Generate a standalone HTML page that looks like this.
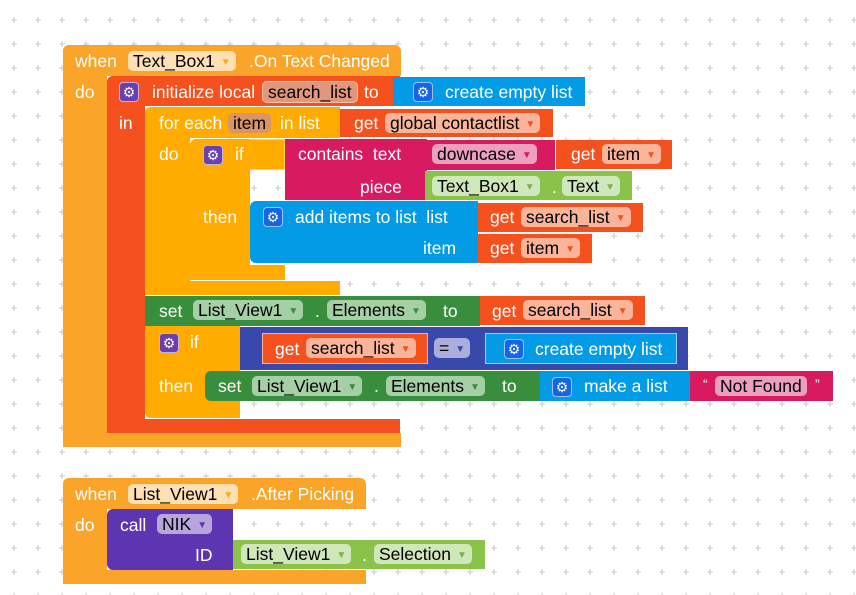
<!DOCTYPE html>
<html><head><meta charset="utf-8"><style>
body{margin:0;width:856px;height:595px;overflow:hidden;background:#fff;font-family:"Liberation Sans",Arial,sans-serif;position:relative}
.r{position:absolute}
.t{position:absolute;color:#fff;font-size:17.5px;line-height:20px;white-space:nowrap}
.p{position:absolute;height:20px;line-height:20px;border-radius:5px;padding:0 5px;color:#000;font-size:17.5px;white-space:nowrap}
.a{font-size:10px;margin-left:6px;vertical-align:2px}
.g{position:absolute;width:18px;height:18px;border-radius:4px;color:#fff;font-size:14px;line-height:18px;text-align:center;border:1px solid rgba(255,255,255,.6)}
</style></head><body>
<svg class="r" style="left:0;top:0" width="856" height="595"><defs><pattern id="pg" x="2" y="8" width="24" height="24" patternUnits="userSpaceOnUse"><path d="M12 9v6M9 12h6" stroke="#c8c8c8" stroke-width="1"/></pattern></defs><rect width="856" height="595" fill="url(#pg)"/></svg>

<!-- Event 1 -->
<div class="r" style="left:63px;top:45px;width:338px;height:31px;background:#FAA52A;border-radius:6px 6px 0 0"></div>
<div class="r" style="left:63px;top:45px;width:44px;height:402px;background:#FAA52A;border-radius:6px 0 0 6px"></div>
<div class="r" style="left:63px;top:433px;width:338px;height:14px;background:#FAA52A"></div>
<span class="t" style="left:75px;top:51px">when</span>
<span class="p" style="left:128px;top:51px;background:#FEE0B4">Text_Box1<span class="a" style="color:#f9a825">▼</span></span>
<span class="t" style="left:249px;top:51px">.On Text Changed</span>
<span class="t" style="left:75px;top:82px">do</span>

<!-- init local -->
<div class="r" style="left:107px;top:76px;width:293px;height:30px;background:#F4511E;border-radius:6px 0 0 0"></div>
<div class="r" style="left:107px;top:76px;width:38px;height:357px;background:#F4511E;border-radius:6px 0 0 6px"></div>
<div class="r" style="left:107px;top:419px;width:293px;height:14px;background:#F4511E"></div>
<div class="g" style="left:119px;top:82px;background:#6a3fb0">⚙</div>
<span class="t" style="left:152px;top:82px">initialize local</span>
<span class="p" style="left:262px;top:81px;background:#E0977C;border:1px solid #f8c0aa">search_list</span>
<span class="t" style="left:364px;top:82px">to</span>
<div class="r" style="left:393px;top:77px;width:192px;height:29px;background:#039BE5"></div>
<div class="g" style="left:413px;top:82px;background:#1565e8">⚙</div>
<span class="t" style="left:445px;top:82px">create empty list</span>
<span class="t" style="left:119px;top:113px">in</span>

<!-- for each -->
<div class="r" style="left:145px;top:107px;width:195px;height:31px;background:#FFAB00;border-radius:6px 0 0 0"></div>
<div class="r" style="left:145px;top:107px;width:45px;height:188px;background:#FFAB00;border-radius:6px 0 0 6px"></div>
<div class="r" style="left:145px;top:281px;width:195px;height:14px;background:#FFAB00"></div>
<span class="t" style="left:159px;top:113px">for each</span>
<span class="p" style="left:228px;top:113px;background:#D99566">item</span>
<span class="t" style="left:280px;top:113px">in list</span>
<div class="r" style="left:340px;top:109px;width:213px;height:28px;background:#F4511E"></div>
<span class="t" style="left:354px;top:113px">get</span>
<span class="p" style="left:385px;top:113px;background:#F9B49A">global contactlist<span class="a" style="color:#f4511e">▼</span></span>
<span class="t" style="left:159px;top:144px">do</span>

<!-- if 1 -->
<div class="r" style="left:190px;top:139px;width:95px;height:31px;background:#FFAB00;border:1px solid #ffd54f;border-radius:6px 0 0 0;box-sizing:border-box"></div>
<div class="r" style="left:190px;top:139px;width:60px;height:141px;background:#FFAB00;border-radius:6px 0 0 6px"></div>
<div class="r" style="left:190px;top:265px;width:95px;height:15px;background:#FFAB00"></div>
<div class="g" style="left:203px;top:145px;background:#6a3fb0">⚙</div>
<span class="t" style="left:235px;top:144px">if</span>
<div class="r" style="left:285px;top:139px;width:142px;height:61px;background:#D81B60"></div>
<span class="t" style="left:298px;top:144px">contains &nbsp;text</span>
<span class="t" style="left:360px;top:177px">piece</span>
<div class="r" style="left:425px;top:140px;width:130px;height:30px;background:#D81B60"></div>
<span class="p" style="left:432px;top:144px;background:#EC9FBE">downcase<span class="a" style="color:#d81b60">▼</span></span>
<div class="r" style="left:556px;top:140px;width:116px;height:29px;background:#F4511E"></div>
<span class="t" style="left:571px;top:144px">get</span>
<span class="p" style="left:602px;top:144px;background:#F9B49A">item<span class="a" style="color:#f4511e">▼</span></span>
<div class="r" style="left:425px;top:171px;width:207px;height:29px;background:#8BC34A"></div>
<span class="p" style="left:432px;top:176px;background:#D0E6BB">Text_Box1<span class="a" style="color:#7cb342">▼</span></span>
<span class="t" style="left:552px;top:177px">.</span>
<span class="p" style="left:562px;top:176px;background:#D0E6BB">Text<span class="a" style="color:#7cb342">▼</span></span>
<span class="t" style="left:203px;top:207px">then</span>

<!-- add items -->
<div class="r" style="left:250px;top:201px;width:228px;height:62px;background:#039BE5;border-radius:6px 0 0 6px"></div>
<div class="g" style="left:263px;top:207px;background:#1565e8">⚙</div>
<span class="t" style="left:295px;top:207px">add items to list &nbsp;list</span>
<span class="t" style="left:423px;top:238px">item</span>
<div class="r" style="left:478px;top:203px;width:165px;height:29px;background:#F4511E"></div>
<span class="t" style="left:490px;top:207px">get</span>
<span class="p" style="left:521px;top:207px;background:#F9B49A">search_list<span class="a" style="color:#f4511e">▼</span></span>
<div class="r" style="left:478px;top:234px;width:114px;height:29px;background:#F4511E"></div>
<span class="t" style="left:490px;top:238px">get</span>
<span class="p" style="left:521px;top:238px;background:#F9B49A">item<span class="a" style="color:#f4511e">▼</span></span>

<!-- set 1 -->
<div class="r" style="left:145px;top:296px;width:335px;height:30px;background:#388E3C"></div>
<span class="t" style="left:159px;top:301px">set</span>
<span class="p" style="left:193px;top:300px;background:#A5CFA5">List_View1<span class="a" style="color:#388e3c">▼</span></span>
<span class="t" style="left:315px;top:301px">.</span>
<span class="p" style="left:327px;top:300px;background:#A5CFA5">Elements<span class="a" style="color:#388e3c">▼</span></span>
<span class="t" style="left:443px;top:301px">to</span>
<div class="r" style="left:480px;top:296px;width:165px;height:29px;background:#F4511E"></div>
<span class="t" style="left:492px;top:301px">get</span>
<span class="p" style="left:523px;top:300px;background:#F9B49A">search_list<span class="a" style="color:#f4511e">▼</span></span>

<!-- if 2 -->
<div class="r" style="left:145px;top:326px;width:95px;height:92px;background:#FFAB00;border-radius:0 0 0 6px"></div>
<div class="g" style="left:159px;top:333px;background:#6a3fb0">⚙</div>
<span class="t" style="left:190px;top:332px">if</span>
<span class="t" style="left:159px;top:376px">then</span>
<div class="r" style="left:240px;top:327px;width:448px;height:43px;background:#3949AB"></div>
<div class="r" style="left:262px;top:333px;width:166px;height:31px;background:#F4511E;border:1px solid #f9b49a;box-sizing:border-box"></div>
<span class="t" style="left:275px;top:339px">get</span>
<span class="p" style="left:306px;top:338px;background:#F9B49A">search_list<span class="a" style="color:#f4511e">▼</span></span>
<span class="p" style="left:434px;top:338px;background:#A9AEDB">=<span class="a" style="color:#3949ab">▼</span></span>
<div class="r" style="left:485px;top:333px;width:192px;height:31px;background:#039BE5;border:1px solid #8fd3f5;box-sizing:border-box"></div>
<div class="g" style="left:504px;top:339px;background:#1565e8">⚙</div>
<span class="t" style="left:535px;top:339px">create empty list</span>

<!-- set 2 -->
<div class="r" style="left:205px;top:371px;width:335px;height:30px;background:#388E3C;border-radius:6px 0 0 6px"></div>
<span class="t" style="left:218px;top:376px">set</span>
<span class="p" style="left:252px;top:376px;background:#A5CFA5">List_View1<span class="a" style="color:#388e3c">▼</span></span>
<span class="t" style="left:374px;top:376px">.</span>
<span class="p" style="left:386px;top:376px;background:#A5CFA5">Elements<span class="a" style="color:#388e3c">▼</span></span>
<span class="t" style="left:502px;top:376px">to</span>
<div class="r" style="left:540px;top:371px;width:150px;height:30px;background:#039BE5"></div>
<div class="g" style="left:552px;top:377px;background:#1565e8">⚙</div>
<span class="t" style="left:584px;top:376px">make a list</span>
<div class="r" style="left:690px;top:371px;width:143px;height:30px;background:#D81B60"></div>
<span class="t" style="left:703px;top:374px;font-size:14px">“</span>
<span class="p" style="left:715px;top:376px;background:#EC9FBE">Not Found</span>
<span class="t" style="left:815px;top:374px;font-size:14px">”</span>

<!-- Event 2 -->
<div class="r" style="left:63px;top:478px;width:303px;height:31px;background:#FAA52A;border-radius:6px 6px 0 0"></div>
<div class="r" style="left:63px;top:478px;width:44px;height:106px;background:#FAA52A;border-radius:6px 0 0 6px"></div>
<div class="r" style="left:63px;top:570px;width:303px;height:14px;background:#FAA52A"></div>
<span class="t" style="left:75px;top:484px">when</span>
<span class="p" style="left:128px;top:484px;background:#FEE0B4">List_View1<span class="a" style="color:#f9a825">▼</span></span>
<span class="t" style="left:251px;top:484px">.After Picking</span>
<span class="t" style="left:75px;top:515px">do</span>
<div class="r" style="left:107px;top:509px;width:126px;height:61px;background:#5E35B1;border-radius:6px 0 0 6px"></div>
<span class="t" style="left:120px;top:515px">call</span>
<span class="p" style="left:157px;top:514px;background:#B7A6DD">NIK<span class="a" style="color:#5e35b1">▼</span></span>
<span class="t" style="left:195px;top:545px">ID</span>
<div class="r" style="left:233px;top:540px;width:252px;height:29px;background:#8BC34A"></div>
<span class="p" style="left:241px;top:544px;background:#D0E6BB">List_View1<span class="a" style="color:#7cb342">▼</span></span>
<span class="t" style="left:362px;top:545px">.</span>
<span class="p" style="left:374px;top:544px;background:#D0E6BB">Selection<span class="a" style="color:#7cb342">▼</span></span>
</body></html>
